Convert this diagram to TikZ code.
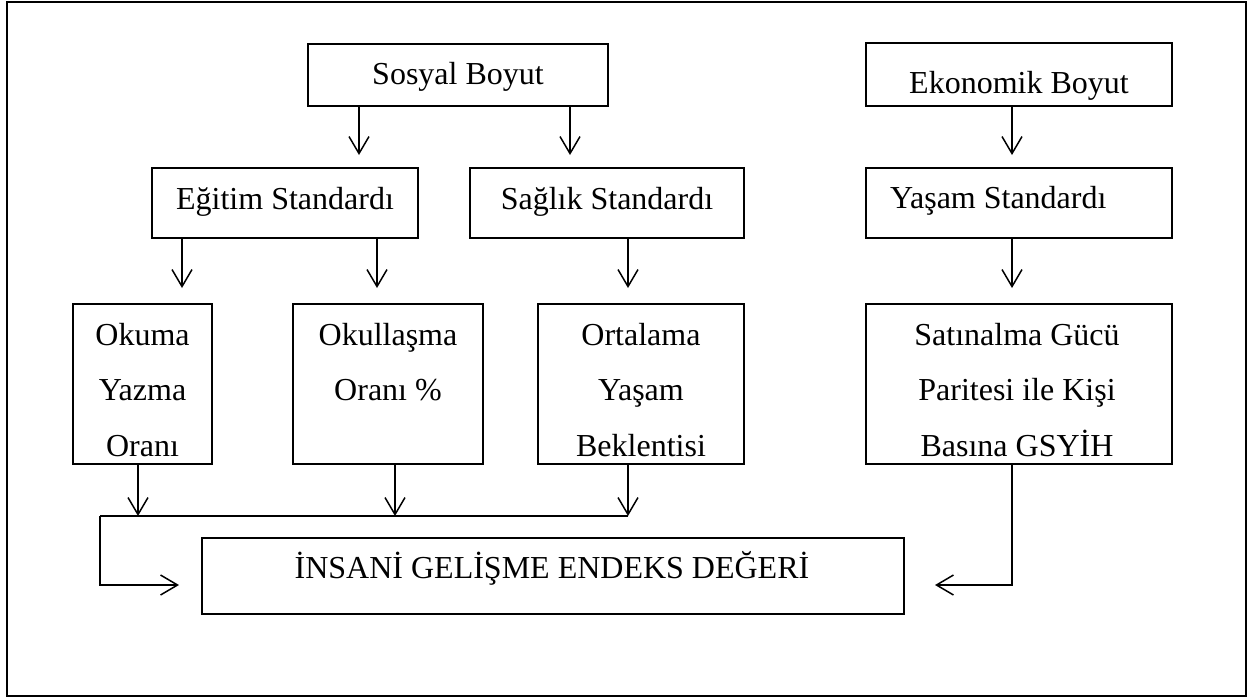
\documentclass[tikz,border=0pt]{standalone}
\usepackage{fontspec}
\setmainfont{Liberation Serif}
\usetikzlibrary{arrows.meta,calc}
\tikzset{
  box/.style={draw=black, line width=1.3pt, inner sep=0pt, outer sep=0pt, rectangle},
  txt/.style={font=\fontsize{32}{38}\selectfont, inner sep=0pt, anchor=base, text=black},
  arr/.style={line width=1.5pt, -{Straight Barb[length=17pt,width=20pt,line width=1.5pt]}},
  conn/.style={line width=1.5pt}
}
\begin{document}
\begin{tikzpicture}[x=1pt,y=-1pt]
\useasboundingbox (0,0) rectangle (1250,697);
\draw[line width=2pt] (6.5,1.5) rectangle (1246,695.5);

% boxes
\node[box, minimum width=300pt, minimum height=62pt] (sos) at (458,75) {};
\node[box, minimum width=306pt, minimum height=63pt] (eko) at (1019,74.5) {};
\node[box, minimum width=266pt, minimum height=70pt] (egi) at (285,203) {};
\node[box, minimum width=274pt, minimum height=70pt] (sag) at (607,203) {};
\node[box, minimum width=306pt, minimum height=70pt] (yas) at (1019,203) {};
\node[box, minimum width=139pt, minimum height=160pt] (oku) at (142.5,384) {};
\node[box, minimum width=190pt, minimum height=160pt] (okl) at (388,384) {};
\node[box, minimum width=206pt, minimum height=160pt] (ort) at (641,384) {};
\node[box, minimum width=306pt, minimum height=160pt] (sat) at (1019,384) {};
\node[box, minimum width=702pt, minimum height=76pt] (ins) at (553,576) {};

% texts
\node[txt] (tsos) at (458,84) {Sosyal Boyut};
\node[txt] (teko) at (1019,93) {Ekonomik Boyut};
\node[txt] (tegi) at (285,209) {Eğitim Standardı};
\node[txt] (tsag) at (607,209) {Sağlık Standardı};
\node[txt, anchor=base west] (tyas) at (890,208) {Yaşam Standardı};
\node[txt] (toku1) at (142.5,345) {Okuma};
\node[txt] (toku2) at (142.5,400.5) {Yazma};
\node[txt] (toku3) at (142.5,456) {Oranı};
\node[txt] (tokl1) at (388,345) {Okullaşma};
\node[txt] (tokl2) at (388,400.5) {Oranı \%};
\node[txt] (tort1) at (641,345) {Ortalama};
\node[txt] (tort2) at (641,400.5) {Yaşam};
\node[txt] (tort3) at (641,456) {Beklentisi};
\node[txt] (tsat1) at (1017,345) {Satınalma Gücü};
\node[txt] (tsat2) at (1017,400.5) {Paritesi ile Kişi};
\node[txt] (tsat3) at (1017,456) {Basına GSYİH};
\node[txt] (tins) at (552,578) {İNSANİ GELİŞME ENDEKS DEĞERİ};

% arrows top levels
\draw[arr, shorten >=13pt] (359,0 |- sos.south) -- (359,0 |- egi.north);
\draw[arr, shorten >=13pt] (570,0 |- sos.south) -- (570,0 |- sag.north);
\draw[arr, shorten >=13pt] (1012,0 |- eko.south) -- (1012,0 |- yas.north);
\draw[arr, shorten >=16pt] (182,0 |- egi.south) -- (182,0 |- oku.north);
\draw[arr, shorten >=16pt] (377,0 |- egi.south) -- (377,0 |- okl.north);
\draw[arr, shorten >=16pt] (628,0 |- sag.south) -- (628,0 |- ort.north);
\draw[arr, shorten >=16pt] (1012,0 |- yas.south) -- (1012,0 |- sat.north);

% bottom collector
\coordinate (jL) at (100,516);
\coordinate (jR) at (628,516);
\draw[arr] (138,0 |- oku.south) -- (138,0 |- jL);
\draw[arr] (395,0 |- okl.south) -- (395,0 |- jL);
\draw[arr] (628,0 |- ort.south) -- (jR);
\draw[conn] (jR) -- (jL);
\draw[arr, shorten >=23pt] (jL) -- (100,585) -- (ins.west |- 0,585);
\draw[arr, shorten >=31pt] (1012,0 |- sat.south) -- (1012,585) -- (ins.east |- 0,585);
\end{tikzpicture}
\end{document}
